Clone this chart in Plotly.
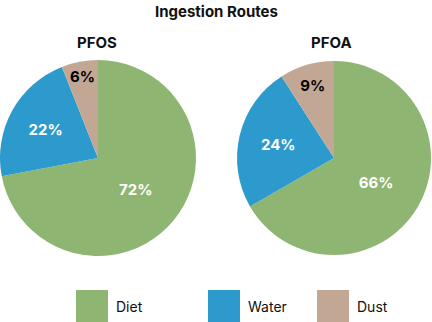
import plotly.graph_objects as go

categories = ["Diet", "Water", "Dust"]
pfos_values = [72, 22, 6]
pfoa_values = [66, 24, 9]
colors = ["#8FB572", "#2D9ACD", "#C2A794"]
text_colors = ["white", "white", "black"]
chart_title = "Ingestion Routes"
pie_titles = ["PFOS", "PFOA"]

W, H = 432, 322
FONT = "Inter, Roboto, sans-serif"

def px(x):
    return x / W

def py(y):
    return 1 - y / H

fig = go.Figure()

domains = [
    dict(x=[px(0), px(196)], y=[py(256), py(60)]),
    dict(x=[px(237), px(431)], y=[py(255), py(61)]),
]

for vals, dom in zip([pfos_values, pfoa_values], domains):
    fig.add_trace(go.Pie(
        labels=categories,
        values=vals,
        text=[f"{v}%" for v in vals],
        texttemplate="%{text}",
        textposition="inside",
        insidetextorientation="horizontal",
        textfont=dict(family=FONT, size=15, color=text_colors, weight="bold"),
        marker=dict(colors=colors, line=dict(width=0)),
        sort=False,
        direction="clockwise",
        rotation=0,
        domain=dom,
        showlegend=False,
        hoverinfo="label+percent",
    ))

annotations = [
    dict(text=f"<b>{chart_title}</b>", x=0.5, y=py(11), xref="paper", yref="paper",
         showarrow=False, font=dict(family=FONT, size=15, color="#111"), xanchor="center", yanchor="middle"),
]
for t, cx in zip(pie_titles, [97, 331]):
    annotations.append(dict(text=f"<b>{t}</b>", x=px(cx), y=py(43), xref="paper", yref="paper",
                            showarrow=False, font=dict(family=FONT, size=15, color="#111"),
                            xanchor="center", yanchor="middle"))

shapes = []
legend_x = [76, 208, 317]
for cat, col, lx in zip(categories, colors, legend_x):
    shapes.append(dict(type="rect", xref="paper", yref="paper",
                       x0=px(lx), x1=px(lx + 32), y0=py(322), y1=py(290),
                       fillcolor=col, line=dict(width=0)))
    annotations.append(dict(text=cat, x=px(lx + 38), y=py(306), xref="paper", yref="paper",
                            showarrow=False, font=dict(family=FONT, size=14, color="#111"),
                            xanchor="left", yanchor="middle"))

fig.update_layout(
    width=W, height=H,
    margin=dict(l=0, r=0, t=0, b=0),
    paper_bgcolor="white",
    plot_bgcolor="white",
    annotations=annotations,
    shapes=shapes,
    uniformtext=dict(minsize=15, mode="show"),
)

fig.write_html("out.html")
